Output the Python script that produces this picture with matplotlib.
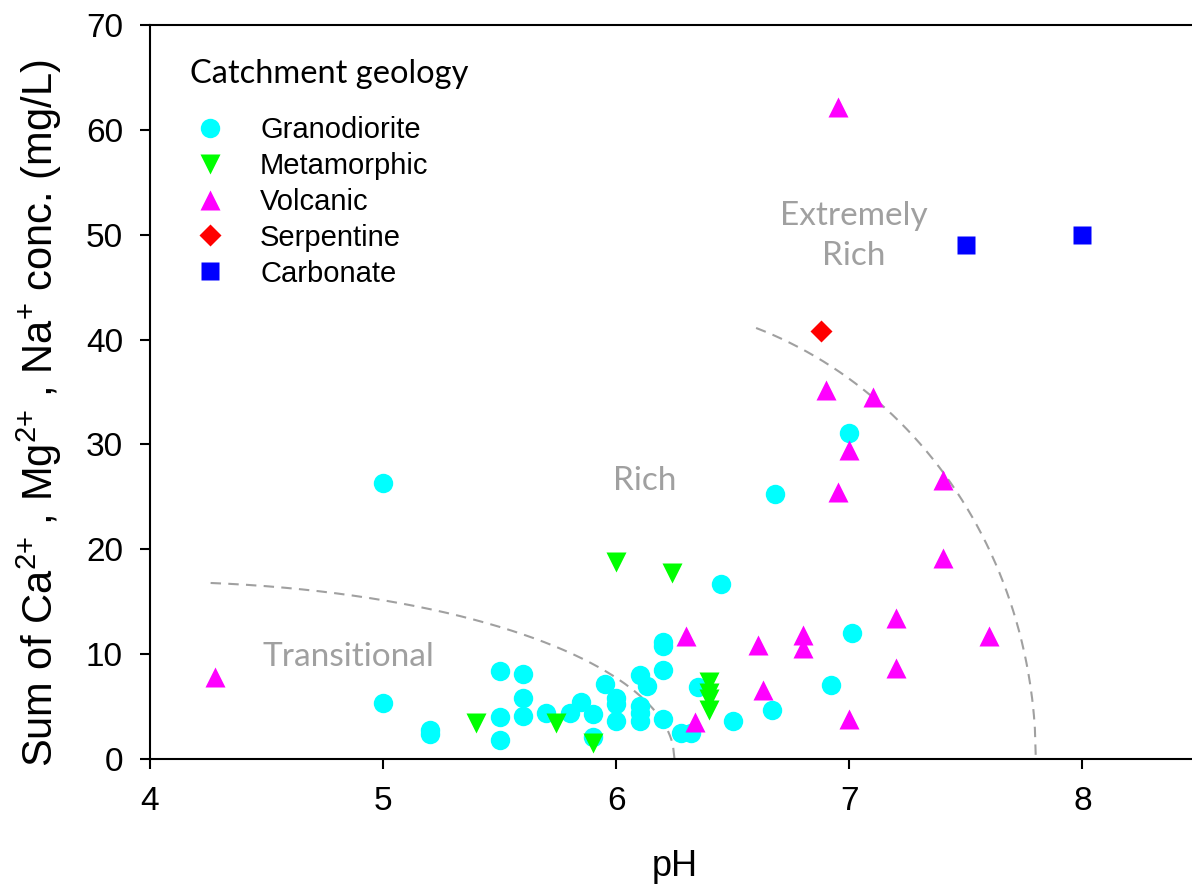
import numpy as np
import matplotlib
matplotlib.use("Agg")
import matplotlib.pyplot as plt

plt.rcParams['font.family'] = ['Liberation Sans', 'DejaVu Sans']
plt.rcParams['mathtext.default'] = 'regular'

# ---- data ----
grano_ph = [5.0, 5.0, 5.2, 5.2, 5.5, 5.5, 5.5, 5.6, 5.6, 5.6, 5.7, 5.8, 5.85, 5.9, 5.9,
            5.95, 6.0, 6.0, 6.0, 6.1, 6.13, 6.1, 6.1, 6.1, 6.2, 6.2, 6.2, 6.2, 6.28, 6.32,
            6.35, 6.45, 6.5, 6.67, 6.68, 6.92, 7.0, 7.01]
grano_conc = [26.3, 5.3, 2.4, 2.8, 8.4, 4.0, 1.8, 8.1, 5.8, 4.1, 4.4, 4.4, 5.4, 4.3, 2.1,
              7.2, 5.8, 5.2, 3.6, 8.0, 7.0, 5.1, 4.4, 3.6, 8.5, 10.8, 11.2, 3.8, 2.5, 2.5,
              6.9, 16.7, 3.6, 4.7, 25.3, 7.1, 31.1, 12.0]

meta_ph = [5.4, 5.74, 5.9, 6.0, 6.24, 6.4, 6.4, 6.4, 6.4]
meta_conc = [3.4, 3.4, 1.5, 18.8, 17.7, 7.3, 6.3, 5.7, 4.7]

volc_ph = [4.28, 6.3, 6.34, 6.61, 6.63, 6.8, 6.8, 6.9, 6.95, 6.95, 7.0, 7.0, 7.1,
           7.2, 7.2, 7.4, 7.4, 7.6]
volc_conc = [7.8, 11.7, 3.5, 10.9, 6.6, 11.8, 10.6, 35.2, 62.2, 25.5, 29.5, 3.8, 34.5,
             13.4, 8.7, 26.6, 19.2, 11.7]

serp_ph = [6.88]
serp_conc = [40.8]

carb_ph = [7.5, 8.0]
carb_conc = [49.0, 50.0]

# boundary curves (quarter ellipses): centre pH, semi-axis pH, semi-axis conc, start pH
trans_curve = dict(cx=4.0, a=2.25, b=16.9, x0=4.26)
rich_curve = dict(cx=6.0, a=1.8, b=43.6, x0=6.6)

xticks = [4, 5, 6, 7, 8]
yticks = [0, 10, 20, 30, 40, 50, 60, 70]

# ---- figure ----
fig = plt.figure(figsize=(11.92, 8.96), dpi=100)
ax = fig.add_axes([150/1192, 137/896, 1049/1192, 734/896])

grey = '#A0A0A0'
for c in (trans_curve, rich_curve):
    xs = np.linspace(c['x0'], c['cx'] + c['a'], 300)
    ys = c['b'] * np.sqrt(np.clip(1 - ((xs - c['cx']) / c['a'])**2, 0, None))
    ax.plot(xs, ys, color=grey, lw=1.5, dashes=(5, 3.5), zorder=1)

ax.plot(grano_ph, grano_conc, ls='none', marker='o', ms=14, color='#00FFFF', mec='none', label='Granodiorite', zorder=3)
ax.plot(meta_ph, meta_conc, ls='none', marker='v', ms=14.4, color='#00FF00', mec='none', label='Metamorphic', zorder=3)
ax.plot(volc_ph, volc_conc, ls='none', marker='^', ms=14.4, color='#FF00FF', mec='none', label='Volcanic', zorder=3)
ax.plot(serp_ph, serp_conc, ls='none', marker='D', ms=11, color='#FF0000', mec='none', label='Serpentine', zorder=3)
ax.plot(carb_ph, carb_conc, ls='none', marker='s', ms=12.7, color='#0000FF', mec='none', label='Carbonate', zorder=3)

region_font = ['Lato', 'DejaVu Sans']
ax.text(4.85, 9.7, 'Transitional', color=grey, fontsize=24, family=region_font, ha='center', va='center')
ax.text(6.12, 26.5, 'Rich', color=grey, fontsize=24, family=region_font, ha='center', va='center')
ax.text(7.02, 49.9, 'Extremely\nRich', color=grey, fontsize=24, family=region_font, ha='center', va='center', linespacing=1.4)

ax.set_xlim(4, 8.5)
ax.set_ylim(0, 70)
ax.set_xticks(xticks)
ax.set_yticks(yticks)
ax.tick_params(direction='out', length=7.5, width=1.5, labelsize=24, pad=12, colors='black')
for s in ('left', 'bottom', 'top'):
    ax.spines[s].set_linewidth(1.5)
ax.spines['right'].set_visible(False)

ax.set_xlabel('pH', fontsize=26, labelpad=23)
ax.set_ylabel('Sum of Ca$^{2{+}}$ , Mg$^{2{+}}$ , Na$^{{+}}$ conc. (mg/L)', fontsize=30, labelpad=16)
ax.yaxis.label.set_y((759 - 413) / 734)

# legend title and entries
ax.text((190 - 150) / 1049, (759 - 83) / 734, 'Catchment geology', transform=ax.transAxes,
        family=['Lato', 'DejaVu Sans'], fontsize=23.5, ha='left', va='baseline')
leg = ax.legend(loc='upper left', bbox_to_anchor=((190 - 150) / 1049, (759 - 116) / 734),
                frameon=False, prop={'family': 'Liberation Sans', 'size': 21},
                handlelength=1.4, handletextpad=1.0, labelspacing=0.27,
                borderaxespad=0, borderpad=0)

fig.savefig('out.png', dpi=100)
